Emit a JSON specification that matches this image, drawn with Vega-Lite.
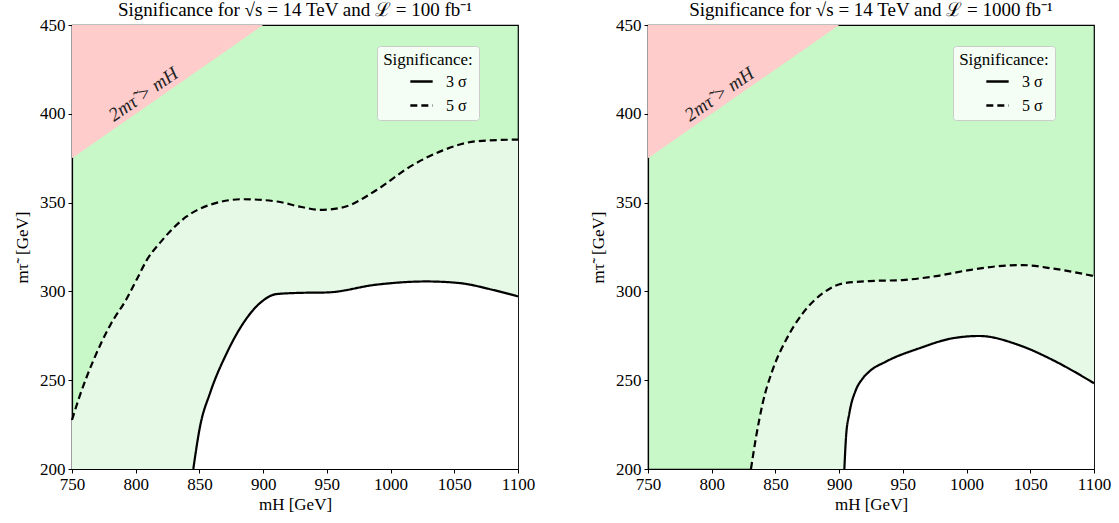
{
  "$schema": "https://vega.github.io/schema/vega-lite/v6.json",
  "background": "white",
  "padding": {"left": 12, "top": 0, "right": 5, "bottom": 5},
  "bounds": "flush",
  "spacing": 130,
  "datasets": {
    "curves": [
      {"panel": "L", "sig": "5 σ", "x": 750, "y": 227.6},
      {"panel": "L", "sig": "5 σ", "x": 756, "y": 241},
      {"panel": "L", "sig": "5 σ", "x": 767, "y": 261.5},
      {"panel": "L", "sig": "5 σ", "x": 780, "y": 281},
      {"panel": "L", "sig": "5 σ", "x": 793, "y": 296},
      {"panel": "L", "sig": "5 σ", "x": 801, "y": 307},
      {"panel": "L", "sig": "5 σ", "x": 809, "y": 318},
      {"panel": "L", "sig": "5 σ", "x": 819, "y": 327.3},
      {"panel": "L", "sig": "5 σ", "x": 830, "y": 336},
      {"panel": "L", "sig": "5 σ", "x": 840, "y": 342.2},
      {"panel": "L", "sig": "5 σ", "x": 858, "y": 348.7},
      {"panel": "L", "sig": "5 σ", "x": 884, "y": 351.9},
      {"panel": "L", "sig": "5 σ", "x": 911, "y": 350.6},
      {"panel": "L", "sig": "5 σ", "x": 930, "y": 347.5},
      {"panel": "L", "sig": "5 σ", "x": 945, "y": 345.9},
      {"panel": "L", "sig": "5 σ", "x": 963, "y": 347.4},
      {"panel": "L", "sig": "5 σ", "x": 989, "y": 357.1},
      {"panel": "L", "sig": "5 σ", "x": 1015, "y": 370.1},
      {"panel": "L", "sig": "5 σ", "x": 1041, "y": 379.4},
      {"panel": "L", "sig": "5 σ", "x": 1068, "y": 384.6},
      {"panel": "L", "sig": "5 σ", "x": 1100, "y": 385.5},
      {"panel": "L", "sig": "3 σ", "x": 845.2, "y": 200},
      {"panel": "L", "sig": "3 σ", "x": 850.5, "y": 224},
      {"panel": "L", "sig": "3 σ", "x": 858.3, "y": 242.7},
      {"panel": "L", "sig": "3 σ", "x": 871.4, "y": 265.2},
      {"panel": "L", "sig": "3 σ", "x": 884.4, "y": 282.1},
      {"panel": "L", "sig": "3 σ", "x": 897.5, "y": 293.4},
      {"panel": "L", "sig": "3 σ", "x": 910.6, "y": 298.5},
      {"panel": "L", "sig": "3 σ", "x": 930, "y": 299.2},
      {"panel": "L", "sig": "3 σ", "x": 950, "y": 299.4},
      {"panel": "L", "sig": "3 σ", "x": 989, "y": 303.8},
      {"panel": "L", "sig": "3 σ", "x": 1028, "y": 305.6},
      {"panel": "L", "sig": "3 σ", "x": 1054, "y": 304.7},
      {"panel": "L", "sig": "3 σ", "x": 1080, "y": 300.9},
      {"panel": "L", "sig": "3 σ", "x": 1100, "y": 297.2},
      {"panel": "R", "sig": "5 σ", "x": 830.8, "y": 200},
      {"panel": "R", "sig": "5 σ", "x": 834.8, "y": 218},
      {"panel": "R", "sig": "5 σ", "x": 840, "y": 237},
      {"panel": "R", "sig": "5 σ", "x": 847.8, "y": 255.8},
      {"panel": "R", "sig": "5 σ", "x": 858.3, "y": 272.6},
      {"panel": "R", "sig": "5 σ", "x": 871.4, "y": 287.6},
      {"panel": "R", "sig": "5 σ", "x": 887.1, "y": 298.9},
      {"panel": "R", "sig": "5 σ", "x": 902.8, "y": 304.5},
      {"panel": "R", "sig": "5 σ", "x": 923.7, "y": 305.8},
      {"panel": "R", "sig": "5 σ", "x": 949.8, "y": 306.4},
      {"panel": "R", "sig": "5 σ", "x": 976, "y": 308.6},
      {"panel": "R", "sig": "5 σ", "x": 1002, "y": 312},
      {"panel": "R", "sig": "5 σ", "x": 1028, "y": 314.4},
      {"panel": "R", "sig": "5 σ", "x": 1044, "y": 314.8},
      {"panel": "R", "sig": "5 σ", "x": 1067.5, "y": 312.9},
      {"panel": "R", "sig": "5 σ", "x": 1100, "y": 308.6},
      {"panel": "R", "sig": "3 σ", "x": 904.1, "y": 200},
      {"panel": "R", "sig": "3 σ", "x": 905.4, "y": 218},
      {"panel": "R", "sig": "3 σ", "x": 908, "y": 231.3},
      {"panel": "R", "sig": "3 σ", "x": 913.2, "y": 244.6},
      {"panel": "R", "sig": "3 σ", "x": 918, "y": 250.5},
      {"panel": "R", "sig": "3 σ", "x": 923.7, "y": 254.9},
      {"panel": "R", "sig": "3 σ", "x": 936.8, "y": 260.5},
      {"panel": "R", "sig": "3 σ", "x": 963, "y": 268},
      {"panel": "R", "sig": "3 σ", "x": 989, "y": 273.6},
      {"panel": "R", "sig": "3 σ", "x": 1010, "y": 274.9},
      {"panel": "R", "sig": "3 σ", "x": 1041, "y": 269.8},
      {"panel": "R", "sig": "3 σ", "x": 1067.5, "y": 261.4},
      {"panel": "R", "sig": "3 σ", "x": 1100, "y": 248.3}
    ],
    "red": [
      {"x": 750, "y": 375},
      {"x": 900, "y": 450}
    ],
    "label": [
      {"x": 806, "y": 411, "text": "2mτ̃ > mH"}
    ]
  },
  "hconcat": [
    {
      "width": 446,
      "height": 444,
      "title": {"text": "Significance for √s = 14 TeV and ℒ = 100 fb⁻¹"},
      "encoding": {
        "x": {"field": "x", "type": "quantitative", "scale": {"domain": [750, 1100], "nice": false, "zero": false}, "axis": {"values": [750, 800, 850, 900, 950, 1000, 1050, 1100], "format": "d", "title": "mH [GeV]"}},
        "y": {"field": "y", "type": "quantitative", "scale": {"domain": [200, 450], "nice": false, "zero": false}, "axis": {"values": [200, 250, 300, 350, 400, 450], "format": "d", "title": "mτ̃\u00a0\u00a0[GeV]"}}
      },
      "layer": [
        {"data": {"name": "curves"}, "transform": [{"filter": "datum.panel == 'L' && datum.sig == '5 σ'"}], "mark": {"type": "area", "interpolate": "monotone", "color": "#e6f9e6"}, "encoding": {"y2": {"datum": 200}}},
        {"data": {"name": "curves"}, "transform": [{"filter": "datum.panel == 'L' && datum.sig == '3 σ'"}], "mark": {"type": "area", "interpolate": "monotone", "color": "#ffffff"}, "encoding": {"y2": {"datum": 200}}},
        {"data": {"name": "red"}, "mark": {"type": "area", "color": "#ffcccc"}, "encoding": {"y2": {"datum": 450}}},
        {"data": {"name": "curves"}, "transform": [{"filter": "datum.panel == 'L'"}], "mark": {"type": "line", "interpolate": "monotone", "color": "black", "strokeWidth": 2.2},
          "encoding": {"strokeDash": {"field": "sig", "type": "nominal", "scale": {"domain": ["3 σ", "5 σ"], "range": [[1, 0], [7, 4]]},
            "legend": {"title": "Significance:", "orient": "none", "legendX": 305, "legendY": 21}}}},
        {"data": {"name": "label"}, "mark": {"type": "text", "angle": 325, "fontSize": 19, "fontStyle": "italic", "color": "#222"}, "encoding": {"text": {"field": "text"}}}
      ]
    },
    {
      "width": 446,
      "height": 444,
      "title": {"text": "Significance for √s = 14 TeV and ℒ = 1000 fb⁻¹"},
      "encoding": {
        "x": {"field": "x", "type": "quantitative", "scale": {"domain": [750, 1100], "nice": false, "zero": false}, "axis": {"values": [750, 800, 850, 900, 950, 1000, 1050, 1100], "format": "d", "title": "mH [GeV]"}},
        "y": {"field": "y", "type": "quantitative", "scale": {"domain": [200, 450], "nice": false, "zero": false}, "axis": {"values": [200, 250, 300, 350, 400, 450], "format": "d", "title": "mτ̃\u00a0\u00a0[GeV]"}}
      },
      "layer": [
        {"data": {"name": "curves"}, "transform": [{"filter": "datum.panel == 'R' && datum.sig == '5 σ'"}], "mark": {"type": "area", "interpolate": "monotone", "color": "#e6f9e6"}, "encoding": {"y2": {"datum": 200}}},
        {"data": {"name": "curves"}, "transform": [{"filter": "datum.panel == 'R' && datum.sig == '3 σ'"}], "mark": {"type": "area", "interpolate": "monotone", "color": "#ffffff"}, "encoding": {"y2": {"datum": 200}}},
        {"data": {"name": "red"}, "mark": {"type": "area", "color": "#ffcccc"}, "encoding": {"y2": {"datum": 450}}},
        {"data": {"name": "curves"}, "transform": [{"filter": "datum.panel == 'R'"}], "mark": {"type": "line", "interpolate": "monotone", "color": "black", "strokeWidth": 2.2},
          "encoding": {"strokeDash": {"field": "sig", "type": "nominal", "scale": {"domain": ["3 σ", "5 σ"], "range": [[1, 0], [7, 4]]},
            "legend": {"title": "Significance:", "orient": "none", "legendX": 305, "legendY": 21}}}},
        {"data": {"name": "label"}, "mark": {"type": "text", "angle": 325, "fontSize": 19, "fontStyle": "italic", "color": "#222"}, "encoding": {"text": {"field": "text"}}}
      ]
    }
  ],
  "resolve": {"scale": {"strokeDash": "independent"}, "legend": {"strokeDash": "independent"}},
  "config": {
    "font": "Liberation Serif",
    "view": {"fill": "#c8f7c8", "stroke": "black", "strokeWidth": 1.2},
    "title": {"fontSize": 19, "fontWeight": "normal", "color": "black", "offset": -4, "anchor": "middle"},
    "axis": {"grid": false, "domainColor": "black", "tickColor": "black", "labelColor": "black", "titleColor": "black", "labelFontSize": 17, "titleFontSize": 17, "titleFontWeight": "normal", "tickSize": 4, "labelPadding": 3, "domainWidth": 1.2, "labelFlush": false, "labelOverlap": false},
    "axisX": {"titlePadding": 4},
    "axisY": {"titlePadding": 8},
    "legend": {
      "fillColor": "rgba(255,255,255,0.8)", "strokeColor": "#cccccc", "cornerRadius": 3, "padding": 6,
      "titleFontSize": 17, "titleFontWeight": "normal", "titleColor": "black", "titleAnchor": "middle", "titlePadding": 0,
      "labelFontSize": 16, "labelColor": "black", "symbolType": "stroke", "symbolStrokeColor": "black", "symbolStrokeWidth": 2.5,
      "symbolSize": 500, "symbolOffset": 20, "rowPadding": 3, "labelOffset": 12
    }
  }
}
